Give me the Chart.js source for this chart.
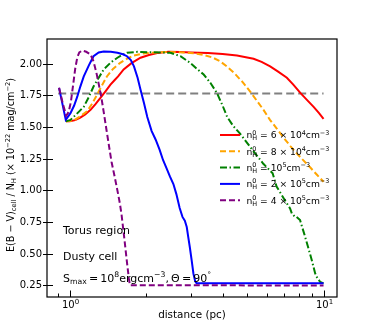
<!DOCTYPE html>
<html lang="en">
<head>
<meta charset="UTF-8"/>
<title>E(B-V) per cell vs distance</title>
<script src="https://cdn.jsdelivr.net/npm/chart.js@4.4.0/dist/chart.umd.min.js"></script>
<style>
  html, body { margin: 0; padding: 0; background: #fff; }
  #wrap { width: 374px; height: 334px; }
</style>
</head>
<body>
<div id="wrap"><canvas id="chart" width="374" height="334"></canvas></div>
<script>
// ---- data ----
const redX = [0.965, 1.0, 1.05, 1.10, 1.15, 1.207, 1.26, 1.32, 1.38, 1.446, 1.50, 1.55, 1.63, 1.75, 1.90, 2.05, 2.21, 2.45, 2.73, 3.0, 3.5, 4.0, 4.56, 5.0, 5.3, 5.7, 6.16, 6.6, 7.17, 7.6, 8.1, 8.6, 9.14, 9.6, 10];
const redY = [1.545, 1.545, 1.555, 1.575, 1.60, 1.636, 1.68, 1.73, 1.78, 1.835, 1.87, 1.90, 1.955, 2.005, 2.048, 2.07, 2.085, 2.095, 2.093, 2.09, 2.085, 2.078, 2.066, 2.05, 2.04, 2.015, 1.98, 1.94, 1.89, 1.835, 1.77, 1.715, 1.66, 1.61, 1.565];

const orangeX = [0.965, 1.0, 1.04, 1.10, 1.17, 1.22, 1.28, 1.34, 1.40, 1.48, 1.58, 1.68, 1.79, 1.93, 2.08, 2.4, 2.8, 3.1, 3.37, 3.65, 3.91, 4.15, 4.43, 4.8, 5.14, 5.45, 5.8, 6.15, 6.53, 7.0, 7.4, 7.86, 8.35, 8.87, 9.4, 10];
const orangeY = [1.545, 1.547, 1.555, 1.585, 1.625, 1.68, 1.755, 1.83, 1.90, 1.96, 2.008, 2.04, 2.066, 2.08, 2.087, 2.093, 2.09, 2.083, 2.07, 2.05, 2.02, 1.98, 1.93, 1.855, 1.78, 1.71, 1.636, 1.557, 1.49, 1.41, 1.35, 1.29, 1.235, 1.18, 1.125, 1.068];

const greenX = [0.965, 1.006, 1.06, 1.135, 1.19, 1.24, 1.30, 1.36, 1.45, 1.54, 1.61, 1.68, 1.85, 2.02, 2.3, 2.49, 2.73, 2.98, 3.17, 3.37, 3.58, 3.80, 4.0, 4.17, 4.4, 4.68, 5.2, 5.79, 6.3, 6.53, 7.05, 7.38, 7.5, 7.72, 7.83, 8.08, 8.46, 8.84, 8.99, 9.27, 9.4, 9.7, 10];
const greenY = [1.545, 1.557, 1.60, 1.66, 1.74, 1.82, 1.89, 1.955, 2.01, 2.048, 2.07, 2.087, 2.095, 2.092, 2.09, 2.087, 2.06, 2.008, 1.96, 1.915, 1.85, 1.77, 1.67, 1.58, 1.51, 1.45, 1.33, 1.21, 1.135, 1.03, 0.92, 0.857, 0.818, 0.79, 0.79, 0.765, 0.633, 0.50, 0.448, 0.343, 0.316, 0.276, 0.264];

const blueX = [0.907, 0.964, 1.006, 1.04, 1.07, 1.10, 1.135, 1.19, 1.24, 1.30, 1.36, 1.45, 1.54, 1.62, 1.68, 1.74, 1.79, 1.85, 1.90, 1.96, 2.02, 2.10, 2.18, 2.26, 2.33, 2.40, 2.48, 2.56, 2.63, 2.71, 2.78, 2.84, 2.89, 2.93, 2.97, 3.02, 3.07, 3.12, 3.16, 10];
const blueY = [1.81, 1.557, 1.61, 1.67, 1.74, 1.82, 1.90, 1.99, 2.06, 2.09, 2.098, 2.095, 2.087, 2.075, 2.06, 2.03, 1.98, 1.89, 1.795, 1.69, 1.58, 1.47, 1.40, 1.32, 1.24, 1.18, 1.11, 1.05, 0.97, 0.86, 0.79, 0.76, 0.71, 0.63, 0.554, 0.45, 0.343, 0.28, 0.265, 0.265];

const purpleX = [0.907, 0.94, 0.968, 0.99, 1.01, 1.03, 1.05, 1.07, 1.09, 1.12, 1.16, 1.207, 1.24, 1.274, 1.30, 1.33, 1.36, 1.395, 1.43, 1.46, 1.505, 1.54, 1.575, 1.60, 1.64, 1.68, 1.71, 1.725, 10];
const purpleY = [1.81, 1.68, 1.59, 1.62, 1.70, 1.83, 1.96, 2.05, 2.09, 2.105, 2.095, 2.074, 2.02, 1.926, 1.84, 1.74, 1.62, 1.477, 1.34, 1.226, 1.10, 1.00, 0.897, 0.805, 0.62, 0.43, 0.30, 0.25, 0.248];

const grayX = [0.9, 10];
const grayY = [1.765, 1.765];

const yTicks = [0.25, 0.50, 0.75, 1.00, 1.25, 1.50, 1.75, 2.00];
const xMajor = [1, 10];
const xMajorExp = ['0', '1'];
const xMinor = [0.9, 2, 3, 4, 5, 6, 7, 8, 9];

const legendMult = ['6 × 10', '8 × 10', '10', '2 × 10', '4 × 10'];
const legendExp = ['4', '4', '5', '5', '5'];
const legendColors = ['#ff0000', '#ffa500', '#008000', '#0000ff', '#800080'];
const legendDash = [[], [6, 3], [7, 2.5, 1.5, 2.5], [], [6, 3]];

// ---- rich text helpers (super/subscripts) ----
const FONT = '"DejaVu Sans", sans-serif';
function setF(ctx, s) { ctx.font = s + 'px ' + FONT; }
function partW(ctx, p, s) {
  if (p.t !== undefined) { setF(ctx, s); return ctx.measureText(p.t).width; }
  setF(ctx, s * 0.7);
  return Math.max(p.sup ? ctx.measureText(p.sup).width : 0, p.sub ? ctx.measureText(p.sub).width : 0);
}
function drawRich(ctx, parts, x, y, s, align) {
  const w = parts.reduce((a, p) => a + partW(ctx, p, s), 0);
  if (align === 'center') x -= w / 2;
  else if (align === 'right') x -= w;
  ctx.textAlign = 'left';
  ctx.textBaseline = 'alphabetic';
  parts.forEach(p => {
    const pw = partW(ctx, p, s);
    if (p.t !== undefined) { setF(ctx, s); ctx.fillText(p.t, x, y); }
    else {
      setF(ctx, s * 0.7);
      if (p.sup) ctx.fillText(p.sup, x, y - s * 0.42);
      if (p.sub) ctx.fillText(p.sub, x, y + s * 0.22);
    }
    x += pw;
  });
}

const axesPlugin = {
  id: 'axesPlugin',
  afterDraw(chart) {
    const ctx = chart.ctx;
    const a = chart.chartArea;
    const xs = chart.scales.x, ys = chart.scales.y;
    ctx.save();
    ctx.fillStyle = '#000';
    ctx.strokeStyle = '#000';
    ctx.lineWidth = 1.2;
    ctx.strokeRect(a.left, a.top, a.right - a.left, a.bottom - a.top);

    // y ticks + labels
    ctx.lineWidth = 1;
    yTicks.forEach(v => {
      const py = Math.round(ys.getPixelForValue(v)) + 0.5;
      ctx.beginPath(); ctx.moveTo(a.left - 4, py); ctx.lineTo(a.left + 6, py); ctx.stroke();
      setF(ctx, 10);
      ctx.textAlign = 'right'; ctx.textBaseline = 'middle';
      ctx.fillText(v.toFixed(2), a.left - 5, py);
    });
    // x ticks (inward) + labels
    xMajor.forEach((v, i) => {
      const px = Math.round(xs.getPixelForValue(v)) + 0.5;
      ctx.beginPath(); ctx.moveTo(px, a.bottom); ctx.lineTo(px, a.bottom - 6.5); ctx.stroke();
      drawRich(ctx, [{ t: '10' }, { sup: xMajorExp[i] }], px, a.bottom + 11, 10, 'center');
    });
    xMinor.forEach(v => {
      const px = Math.round(xs.getPixelForValue(v)) + 0.5;
      ctx.beginPath(); ctx.moveTo(px, a.bottom); ctx.lineTo(px, a.bottom - 3.5); ctx.stroke();
    });

    // axis titles
    setF(ctx, 10.4);
    ctx.textAlign = 'center'; ctx.textBaseline = 'alphabetic';
    ctx.fillText('distance (pc)', (a.left + a.right) / 2, 318);
    ctx.save();
    ctx.translate(14, 165);
    ctx.rotate(-Math.PI / 2);
    drawRich(ctx, [{ t: 'E(B − V)' }, { sub: 'cell' }, { t: ' / N' }, { sub: 'H' }, { t: ' (× 10' }, { sup: '−22' }, { t: ' mag/cm' }, { sup: '−2' }, { t: ')' }], 0, 0, 9.6, 'center');
    ctx.restore();

    // annotations
    const tx = a.left + 16;
    setF(ctx, 11);
    ctx.textAlign = 'left';
    ctx.fillText('Torus region', tx, 234);
    ctx.fillText('Dusty cell', tx, 260);
    drawRich(ctx, [{ t: 'S' }, { sub: 'max' }, { t: '\u2009=\u200910' }, { sup: '8' }, { t: 'ergcm' }, { sup: '−3' }, { t: ',\u2009Θ\u2009=\u200990' }, { sup: '°' }], tx, 282, 11, 'left');

    // legend
    for (let i = 0; i < legendColors.length; i++) {
      const ry = 135 + i * 16.3;
      ctx.strokeStyle = legendColors[i];
      ctx.lineWidth = 2;
      ctx.setLineDash(legendDash[i]);
      ctx.beginPath(); ctx.moveTo(220, ry); ctx.lineTo(240, ry); ctx.stroke();
      ctx.setLineDash([]);
      drawRich(ctx, [{ t: 'n' }, { sub: 'H', sup: '0' }, { t: ' = ' + legendMult[i] }, { sup: legendExp[i] }, { t: 'cm' }, { sup: '−3' }], 246.5, ry + 3.4, 9.2, 'left');
    }
    ctx.restore();
  }
};

function pts(xs, ys) { return xs.map((x, i) => ({ x: x, y: ys[i] })); }
function ds(xs, ys, color, dash, order) {
  return { data: pts(xs, ys), borderColor: color, borderWidth: 2, borderDash: dash, pointRadius: 0, fill: false, order: order };
}

const ctx = document.getElementById('chart').getContext('2d');
new Chart(ctx, {
  type: 'line',
  data: {
    datasets: [
      ds(grayX, grayY, '#808080', [8, 4], 6),
      ds(redX, redY, '#ff0000', [], 5),
      ds(orangeX, orangeY, '#ffa500', [6, 3], 4),
      ds(greenX, greenY, '#008000', [7, 2.5, 1.5, 2.5], 3),
      ds(blueX, blueY, '#0000ff', [], 2),
      ds(purpleX, purpleY, '#800080', [6, 3], 1)
    ]
  },
  options: {
    responsive: false,
    animation: false,
    layout: { padding: { left: 47, top: 39, right: 37, bottom: 37 } },
    plugins: { legend: { display: false }, tooltip: { enabled: false } },
    scales: {
      x: { type: 'logarithmic', min: 0.813, max: 11.3, display: false },
      y: { type: 'linear', min: 0.157, max: 2.196, display: false }
    }
  },
  plugins: [axesPlugin]
});
</script>
</body>
</html>
